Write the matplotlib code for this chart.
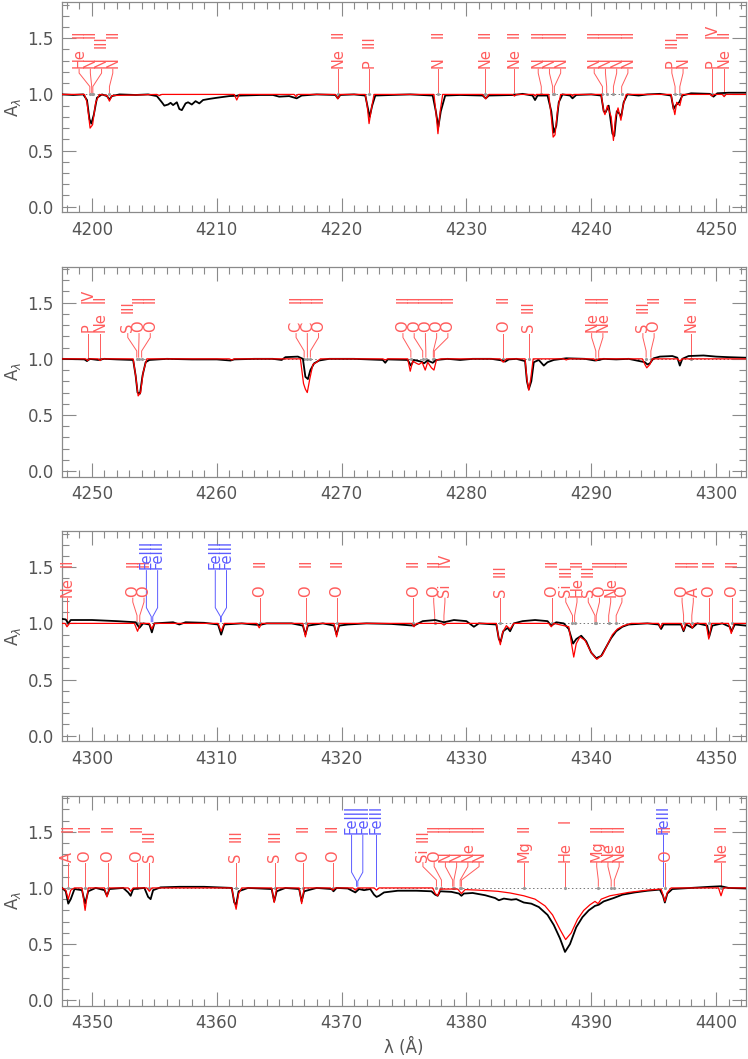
import matplotlib
matplotlib.use('Agg')
import matplotlib.pyplot as plt
from matplotlib.ticker import MultipleLocator, FormatStrFormatter

plt.rcParams['font.family'] = ['DejaVu Sans']
plt.rcParams['mathtext.fontset'] = 'dejavusans'

# wavelength windows of the four panels
ranges = [(4197.6, 4252.4), (4247.6, 4302.4), (4297.6, 4352.4), (4347.6, 4402.4)]

black1 = [(4197.6, 1.0), (4198.5, 0.995), (4199.3, 1.0), (4199.6, 0.95), (4199.8, 0.78), (4199.95, 0.74),
          (4200.15, 0.82), (4200.4, 0.97), (4200.8, 1.0), (4201.2, 0.985), (4201.4, 0.955), (4201.6, 0.985),
          (4202.2, 1.0), (4203.5, 0.995), (4204.5, 1.0), (4205.2, 0.985), (4205.6, 0.93), (4205.8, 0.9),
          (4206.1, 0.91), (4206.3, 0.925), (4206.5, 0.905), (4206.8, 0.93), (4207.0, 0.87), (4207.2, 0.86),
          (4207.5, 0.92), (4207.7, 0.93), (4208.0, 0.91), (4208.3, 0.94), (4208.6, 0.92), (4208.9, 0.95),
          (4209.4, 0.96), (4210.0, 0.97), (4211.0, 0.985), (4212.0, 0.99), (4213.5, 0.995), (4214.5, 0.995),
          (4215.0, 0.98), (4215.8, 0.985), (4216.4, 0.965), (4216.8, 0.99), (4218.0, 1.0), (4219.5, 0.995),
          (4219.7, 0.965), (4219.9, 0.995), (4221.0, 1.0), (4221.9, 0.99), (4222.1, 0.88), (4222.25, 0.8),
          (4222.45, 0.9), (4222.7, 0.99), (4224.0, 0.995), (4225.5, 1.0), (4227.3, 0.99), (4227.55, 0.85),
          (4227.75, 0.71), (4227.95, 0.85), (4228.3, 0.99), (4229.5, 0.995), (4231.3, 0.99), (4231.55, 0.965),
          (4231.8, 0.99), (4233.8, 0.995), (4234.5, 1.005), (4235.3, 0.99), (4235.5, 0.95), (4235.7, 0.99),
          (4236.5, 0.99), (4236.8, 0.85), (4237.0, 0.66), (4237.2, 0.72), (4237.4, 0.93), (4237.7, 1.0),
          (4238.3, 0.99), (4238.5, 0.965), (4238.8, 0.995), (4240.0, 1.0), (4240.8, 0.99), (4241.0, 0.85),
          (4241.15, 0.84), (4241.4, 0.9), (4241.7, 0.65), (4241.85, 0.63), (4242.05, 0.85), (4242.25, 0.83),
          (4242.4, 0.8), (4242.6, 0.93), (4242.9, 1.0), (4243.8, 0.99), (4244.5, 1.0), (4245.5, 1.005),
          (4246.4, 0.99), (4246.6, 0.87), (4246.75, 0.9), (4247.05, 0.93), (4247.3, 0.99), (4248.0, 1.01),
          (4249.5, 1.005), (4249.8, 0.98), (4250.1, 1.01), (4251.0, 1.015), (4252.4, 1.015)]

black2 = [(4247.6, 1.0), (4249.4, 0.995), (4249.6, 0.98), (4249.8, 1.0), (4250.5, 0.99), (4251.0, 1.0),
          (4252.0, 0.995), (4253.3, 0.99), (4253.5, 0.85), (4253.65, 0.70), (4253.85, 0.69), (4254.05, 0.85),
          (4254.3, 0.97), (4254.6, 0.99), (4256.0, 1.0), (4258.0, 0.995), (4260.0, 0.995), (4261.1, 0.985),
          (4261.4, 0.995), (4263.0, 1.0), (4264.5, 1.0), (4265.2, 0.99), (4265.5, 1.015), (4266.5, 1.02),
          (4266.9, 1.0), (4267.1, 0.84), (4267.3, 0.82), (4267.5, 0.9), (4267.8, 0.96), (4268.2, 0.985),
          (4269.0, 1.0), (4271.0, 1.0), (4273.3, 0.99), (4273.5, 0.965), (4273.7, 0.995), (4275.3, 0.99),
          (4275.55, 0.94), (4275.8, 0.99), (4276.4, 0.975), (4276.6, 0.96), (4276.9, 0.985), (4277.3, 0.965),
          (4277.6, 0.99), (4278.5, 1.0), (4279.5, 0.99), (4280.5, 1.0), (4282.0, 1.0), (4282.9, 0.985),
          (4283.1, 0.975), (4283.4, 0.995), (4284.0, 1.0), (4284.7, 0.98), (4284.85, 0.8), (4285.0, 0.73),
          (4285.2, 0.8), (4285.4, 0.97), (4285.8, 0.99), (4286.2, 0.94), (4286.5, 0.97), (4287.0, 0.99),
          (4288.0, 1.005), (4289.5, 1.0), (4290.3, 0.985), (4290.6, 0.99), (4291.0, 1.0), (4292.0, 0.995),
          (4293.0, 1.0), (4294.3, 0.97), (4294.5, 0.95), (4294.7, 0.96), (4295.0, 1.005), (4295.5, 1.02),
          (4296.5, 1.025), (4296.9, 1.01), (4297.1, 0.94), (4297.3, 1.0), (4297.8, 1.025), (4299.0, 1.03),
          (4300.0, 1.02), (4301.0, 1.015), (4302.4, 1.01)]

black3 = [(4297.6, 1.04), (4297.9, 1.035), (4298.1, 1.0), (4298.3, 1.03), (4300.0, 1.03), (4302.0, 1.02),
          (4303.5, 1.01), (4303.8, 0.96), (4304.1, 1.0), (4304.6, 0.99), (4304.8, 0.92), (4305.0, 1.0),
          (4306.5, 1.01), (4307.0, 0.99), (4307.5, 1.01), (4309.0, 1.005), (4310.1, 0.99), (4310.35, 0.9),
          (4310.6, 0.99), (4312.0, 1.0), (4313.4, 0.985), (4314.0, 1.0), (4316.0, 1.0), (4316.9, 0.98),
          (4317.1, 0.9), (4317.3, 0.98), (4318.5, 1.0), (4319.4, 0.98), (4319.6, 0.9), (4319.8, 0.98),
          (4320.5, 0.99), (4322.0, 1.0), (4324.0, 0.995), (4325.8, 0.98), (4326.5, 1.02), (4327.5, 1.03),
          (4328.2, 1.01), (4329.0, 1.03), (4330.0, 1.02), (4330.6, 0.97), (4331.0, 1.0), (4332.4, 0.99),
          (4332.6, 0.86), (4332.75, 0.84), (4332.95, 0.93), (4333.3, 0.96), (4333.5, 0.93), (4333.8, 1.0),
          (4334.5, 1.02), (4335.5, 1.03), (4336.5, 1.02), (4336.8, 0.98), (4337.2, 1.01), (4337.8, 1.0),
          (4338.2, 0.95), (4338.55, 0.82), (4338.8, 0.86), (4339.2, 0.89), (4339.6, 0.84), (4340.0, 0.74),
          (4340.4, 0.69), (4340.8, 0.71), (4341.2, 0.79), (4341.6, 0.87), (4342.0, 0.93), (4342.5, 0.97),
          (4343.0, 0.99), (4344.5, 1.0), (4345.4, 0.99), (4345.6, 0.95), (4345.8, 0.99), (4347.2, 0.99),
          (4347.4, 0.93), (4347.6, 0.99), (4348.1, 0.96), (4348.5, 1.0), (4349.3, 0.98), (4349.45, 0.88),
          (4349.7, 0.98), (4350.5, 1.0), (4351.1, 0.97), (4351.25, 0.93), (4351.5, 0.99), (4352.4, 0.98)]

black4 = [(4347.6, 1.0), (4347.9, 0.97), (4348.1, 0.86), (4348.3, 0.9), (4348.6, 0.99), (4349.2, 0.98),
          (4349.45, 0.86), (4349.7, 0.97), (4350.3, 1.0), (4351.0, 0.98), (4351.2, 0.93), (4351.4, 0.99),
          (4352.5, 1.0), (4352.9, 0.96), (4353.1, 0.93), (4353.3, 0.99), (4354.2, 1.0), (4354.5, 0.92),
          (4354.7, 0.9), (4354.9, 0.98), (4355.5, 1.005), (4357.0, 1.01), (4359.0, 1.01), (4361.2, 1.0),
          (4361.4, 0.87), (4361.55, 0.85), (4361.75, 0.97), (4362.5, 1.0), (4364.4, 0.99), (4364.6, 0.88),
          (4364.8, 0.97), (4365.5, 1.0), (4366.6, 0.99), (4366.8, 0.88), (4367.0, 0.97), (4368.0, 1.0),
          (4369.2, 0.99), (4369.35, 0.97), (4369.6, 1.0), (4370.5, 0.995), (4371.1, 0.96), (4371.4, 0.99),
          (4371.8, 0.98), (4372.3, 0.99), (4372.6, 0.94), (4372.8, 0.92), (4373.0, 0.93), (4373.4, 0.96),
          (4374.5, 0.975), (4376.0, 0.975), (4377.2, 0.97), (4377.5, 0.94), (4377.7, 0.93), (4377.9, 0.97),
          (4378.8, 0.965), (4379.4, 0.95), (4379.6, 0.93), (4379.8, 0.95), (4380.5, 0.955), (4381.5, 0.935),
          (4382.3, 0.91), (4382.6, 0.89), (4383.0, 0.905), (4383.6, 0.895), (4384.0, 0.9), (4384.6, 0.87),
          (4385.2, 0.86), (4385.8, 0.83), (4386.5, 0.76), (4387.0, 0.67), (4387.5, 0.55), (4387.9, 0.43),
          (4388.3, 0.5), (4388.8, 0.65), (4389.3, 0.74), (4389.8, 0.8), (4390.3, 0.84), (4390.6, 0.85),
          (4391.0, 0.88), (4391.8, 0.91), (4392.5, 0.94), (4393.5, 0.96), (4394.5, 0.975), (4395.5, 0.985),
          (4395.75, 0.93), (4395.9, 0.87), (4396.1, 0.95), (4396.5, 0.99), (4398.0, 1.0), (4399.5, 1.01),
          (4400.4, 1.015), (4401.0, 1.0), (4402.4, 0.995)]

# model spectrum (red)
red1 = [(4197.6, 1.0), (4199.4, 1.0), (4199.6, 0.93), (4199.85, 0.70), (4200.05, 0.73), (4200.3, 0.93),
        (4200.6, 1.0), (4201.2, 0.99), (4201.4, 0.94), (4201.6, 0.99), (4205.2, 1.0), (4205.4, 0.99),
        (4205.6, 1.0), (4211.4, 1.0), (4211.6, 0.95), (4211.8, 1.0), (4216.2, 1.0), (4216.35, 0.98),
        (4216.5, 1.0), (4219.5, 1.0), (4219.7, 0.96), (4219.9, 1.0), (4221.9, 1.0), (4222.05, 0.9),
        (4222.2, 0.74), (4222.4, 0.88), (4222.6, 1.0), (4227.4, 1.0), (4227.55, 0.85), (4227.72, 0.65),
        (4227.9, 0.85), (4228.1, 1.0), (4231.3, 1.0), (4231.55, 0.96), (4231.8, 1.0), (4233.7, 1.0),
        (4233.85, 0.985), (4234.0, 1.0), (4235.4, 1.0), (4235.5, 0.985), (4235.6, 1.0), (4236.6, 1.0),
        (4236.8, 0.8), (4236.95, 0.62), (4237.1, 0.64), (4237.3, 0.86), (4237.55, 1.0), (4238.4, 1.0),
        (4238.5, 0.985), (4238.6, 1.0), (4240.8, 1.0), (4241.0, 0.85), (4241.1, 0.82), (4241.3, 0.9),
        (4241.6, 0.8), (4241.78, 0.59), (4241.95, 0.8), (4242.15, 0.88), (4242.38, 0.77), (4242.55, 0.9),
        (4242.8, 1.0), (4246.4, 1.0), (4246.55, 0.9), (4246.7, 0.82), (4246.85, 0.93), (4247.1, 0.9),
        (4247.3, 1.0), (4249.55, 1.0), (4249.7, 0.985), (4249.85, 1.0), (4250.5, 1.0), (4250.65, 0.98),
        (4250.8, 1.0), (4252.4, 1.0)]

red2 = [(4247.6, 1.0), (4249.5, 1.0), (4249.65, 0.985), (4249.8, 1.0), (4250.5, 1.0), (4250.65, 0.985),
        (4250.8, 1.0), (4253.3, 1.0), (4253.5, 0.85), (4253.7, 0.67), (4253.9, 0.7), (4254.1, 0.88),
        (4254.4, 1.0), (4261.0, 1.0), (4261.2, 0.99), (4261.4, 1.0), (4266.7, 1.0), (4266.95, 0.78),
        (4267.1, 0.73), (4267.25, 0.7), (4267.45, 0.82), (4267.7, 0.95), (4268.0, 0.97), (4268.3, 1.0),
        (4273.3, 1.0), (4273.5, 0.99), (4273.7, 1.0), (4275.3, 1.0), (4275.5, 0.89), (4275.7, 0.98),
        (4276.0, 0.96), (4276.2, 0.95), (4276.45, 0.97), (4276.7, 0.9), (4276.9, 0.97), (4277.2, 0.92),
        (4277.4, 0.9), (4277.6, 0.99), (4278.0, 1.0), (4282.7, 1.0), (4282.95, 0.97), (4283.2, 1.0),
        (4284.7, 1.0), (4284.85, 0.82), (4285.0, 0.72), (4285.15, 0.82), (4285.35, 1.0), (4287.8, 1.0),
        (4288.0, 0.99), (4288.2, 1.0), (4290.2, 1.0), (4290.4, 0.985), (4290.6, 1.0), (4294.1, 1.0),
        (4294.3, 0.95), (4294.45, 0.92), (4294.7, 0.95), (4294.9, 1.0), (4296.9, 1.0), (4297.1, 0.98),
        (4297.3, 1.0), (4302.4, 1.0)]

red3 = [(4297.6, 1.0), (4297.85, 1.0), (4298.0, 0.97), (4298.2, 1.0), (4303.4, 1.0), (4303.65, 0.93),
        (4303.9, 1.0), (4304.6, 1.0), (4304.8, 0.95), (4305.0, 1.0), (4310.1, 1.0), (4310.35, 0.93),
        (4310.6, 1.0), (4313.2, 1.0), (4313.4, 0.96), (4313.6, 1.0), (4316.9, 1.0), (4317.1, 0.88),
        (4317.3, 1.0), (4319.4, 1.0), (4319.6, 0.88), (4319.8, 1.0), (4325.6, 1.0), (4325.8, 0.97),
        (4326.0, 1.0), (4328.0, 1.0), (4328.2, 0.985), (4328.4, 1.0), (4332.4, 1.0), (4332.6, 0.86),
        (4332.72, 0.81), (4332.9, 0.92), (4333.2, 0.98), (4333.5, 0.95), (4333.8, 1.0), (4336.6, 1.0),
        (4336.8, 0.97), (4337.0, 1.0), (4338.2, 0.97), (4338.45, 0.8), (4338.6, 0.7), (4338.8, 0.82),
        (4339.1, 0.88), (4339.5, 0.85), (4340.0, 0.74), (4340.45, 0.68), (4340.9, 0.72), (4341.3, 0.81),
        (4341.7, 0.9), (4342.1, 0.95), (4342.6, 0.98), (4343.2, 1.0), (4345.4, 1.0), (4345.55, 0.96),
        (4345.7, 1.0), (4347.2, 1.0), (4347.4, 0.94), (4347.6, 1.0), (4347.9, 1.0), (4348.1, 0.96),
        (4348.3, 1.0), (4349.2, 1.0), (4349.42, 0.86), (4349.65, 1.0), (4351.0, 1.0), (4351.22, 0.91),
        (4351.45, 1.0), (4352.4, 1.0)]

red4 = [(4347.6, 1.0), (4347.9, 0.98), (4348.1, 0.9), (4348.3, 0.98), (4348.6, 1.0), (4349.2, 1.0),
        (4349.45, 0.8), (4349.7, 1.0), (4351.0, 1.0), (4351.2, 0.92), (4351.4, 1.0), (4352.9, 1.0),
        (4353.1, 0.97), (4353.3, 1.0), (4354.4, 1.0), (4354.6, 0.97), (4354.8, 1.0), (4361.2, 1.0),
        (4361.4, 0.88), (4361.55, 0.81), (4361.75, 0.95), (4362.0, 1.0), (4364.4, 1.0), (4364.6, 0.87),
        (4364.8, 1.0), (4366.6, 1.0), (4366.8, 0.86), (4367.0, 1.0), (4369.1, 1.0), (4369.3, 0.98),
        (4369.5, 1.0), (4370.9, 1.0), (4371.1, 0.98), (4371.3, 1.0), (4372.6, 1.0), (4372.8, 0.98),
        (4373.0, 1.0), (4377.3, 1.0), (4377.5, 0.95), (4377.7, 0.93), (4377.9, 0.99), (4379.3, 0.99),
        (4379.6, 0.95), (4379.9, 0.985), (4381.0, 0.98), (4382.5, 0.97), (4383.5, 0.955), (4384.6, 0.93),
        (4385.5, 0.9), (4386.3, 0.84), (4386.9, 0.76), (4387.5, 0.63), (4387.95, 0.54), (4388.4, 0.6),
        (4388.9, 0.72), (4389.4, 0.8), (4389.9, 0.85), (4390.3, 0.88), (4390.55, 0.86), (4390.8, 0.9),
        (4391.5, 0.93), (4392.0, 0.94), (4393.0, 0.96), (4394.5, 0.98), (4395.6, 0.99), (4395.75, 0.94),
        (4395.9, 0.88), (4396.1, 0.96), (4396.4, 1.0), (4400.2, 1.0), (4400.4, 0.93), (4400.6, 1.0),
        (4402.4, 1.0)]

blacks = [black1, black2, black3, black4]
reds = [red1, red2, red3, red4]

# line identifications (wavelength, element, ion)
ids1 = [(4199.83, 'He', 'II'), (4199.98, 'N', 'II'), (4200.07, 'N', 'III'), (4201.4, 'N', 'II'),
        (4219.74, 'Ne', 'II'), (4222.2, 'P', 'III'), (4227.74, 'N', 'II'), (4231.53, 'Ne', 'II'),
        (4233.85, 'Ne', 'II'), (4236.0, 'N', 'II'), (4236.91, 'N', 'II'), (4237.05, 'N', 'II'),
        (4240.9, 'N', 'II'), (4241.24, 'N', 'II'), (4241.78, 'N', 'II'), (4242.44, 'N', 'II'),
        (4246.72, 'P', 'III'), (4247.1, 'N', 'II'), (4249.66, 'P', 'IV'), (4250.65, 'Ne', 'II')]
ids2 = [(4249.66, 'P', 'IV'), (4250.65, 'Ne', 'II'), (4253.59, 'S', 'III'), (4253.74, 'O', 'II'),
        (4253.98, 'O', 'II'), (4267.0, 'C', 'II'), (4267.26, 'C', 'II'), (4267.5, 'O', 'II'),
        (4275.55, 'O', 'II'), (4276.5, 'O', 'II'), (4276.75, 'O', 'II'), (4277.35, 'O', 'II'),
        (4277.43, 'O', 'II'), (4282.96, 'O', 'II'), (4284.98, 'S', 'III'), (4290.37, 'Ne', 'II'),
        (4290.6, 'Ne', 'II'), (4294.4, 'S', 'III'), (4294.78, 'O', 'II'), (4297.97, 'Ne', 'II')]
ids3 = [(4298.0, 'Ne', 'II'), (4303.61, 'O', 'II'), (4303.83, 'O', 'II'), (4313.44, 'O', 'II'),
        (4317.14, 'O', 'II'), (4319.63, 'O', 'II'), (4325.76, 'O', 'II'), (4327.46, 'O', 'II'),
        (4328.2, 'Si', 'IV'), (4332.7, 'S', 'III'), (4336.86, 'O', 'II'), (4338.5, 'Si', 'III'),
        (4338.67, 'He', 'II'), (4340.3, 'S', 'III'), (4340.4, 'O', 'II'), (4341.4, 'Ne', 'II'),
        (4342.0, 'O', 'II'), (4347.4, 'O', 'II'), (4348.06, 'A', 'II'), (4349.43, 'O', 'II'),
        (4351.26, 'O', 'II')]
ids4 = [(4348.06, 'A', 'II'), (4349.43, 'O', 'II'), (4351.26, 'O', 'II'), (4353.59, 'O', 'II'),
        (4354.6, 'S', 'III'), (4361.53, 'S', 'III'), (4364.66, 'S', 'III'), (4366.9, 'O', 'II'),
        (4369.28, 'O', 'II'), (4377.6, 'Si', 'III'), (4378.0, 'O', 'II'), (4378.9, 'N', 'II'),
        (4379.0, 'N', 'II'), (4379.5, 'Ne', 'II'), (4379.6, 'N', 'II'), (4384.64, 'Mg', 'II'),
        (4387.93, 'He', 'I'), (4390.57, 'Mg', 'II'), (4391.6, 'Ne', 'II'), (4391.85, 'Ne', 'II'),
        (4395.94, 'O', 'II'), (4400.4, 'Ne', 'II')]
ids = [ids1, ids2, ids3, ids4]

# iron lines, drawn in blue
fe3 = [[], [], [4304.75, 4304.87, 4310.3, 4310.36], [4371.2, 4371.3, 4372.78, 4395.78]]

RED_LAB = '#ff5c5c'
BLUE_LAB = '#5c5cff'
AXC = '#8a8a8a'
TXC = '#555555'
ION_Y = {'I': 1.58, 'II': 1.50, 'III': 1.41, 'IV': 1.50}


def spread(xs, gap):
    # push label positions apart so the rotated texts do not overlap
    xs = sorted(xs)
    groups = [[x] for x in xs]
    changed = True
    while changed:
        changed = False
        pos = []
        for g in groups:
            c = sum(g) / len(g)
            pos.append([c + (i - (len(g) - 1) / 2) * gap for i in range(len(g))])
        for i in range(len(groups) - 1):
            if pos[i][-1] + gap > pos[i + 1][0] + 1e-9:
                groups[i] = groups[i] + groups[i + 1]
                del groups[i + 1]
                changed = True
                break
    out = []
    for g in groups:
        c = sum(g) / len(g)
        out += [c + (i - (len(g) - 1) / 2) * gap for i in range(len(g))]
    return xs, out


fig = plt.figure(figsize=(7.48, 10.59), dpi=100)
bottoms = [0.7995, 0.5498, 0.3000, 0.0502]

for k in range(4):
    ax = fig.add_axes([0.0829, bottoms[k], 0.9144, 0.1983])
    lo, hi = ranges[k]
    ax.set_xlim(lo, hi)
    ax.set_ylim(-0.05, 1.82)
    ax.axhline(1.0, color='#777777', lw=0.7, ls=(0, (1.5, 2.5)), zorder=1)

    bw = [p[0] for p in blacks[k]]
    bf = [p[1] for p in blacks[k]]
    rw = [p[0] for p in reds[k]]
    rf = [p[1] for p in reds[k]]
    ax.plot(bw, bf, color='black', lw=1.3, zorder=3)
    ax.plot(rw, rf, color='red', lw=0.9, zorder=4)

    # red identifications
    lams = [t[0] for t in ids[k]]
    lab = {t[0]: t for t in ids[k]}
    srt, tx = spread(lams, 0.9)
    for lam, x in zip(srt, tx):
        _, el, ion = lab[lam]
        ax.plot([x, x, lam, lam], [1.225, 1.19, 1.07, 1.015], color=RED_LAB, lw=0.7, zorder=2)
        ax.text(x, 1.235, el, rotation=90, rotation_mode='anchor', ha='left', va='center',
                color=RED_LAB, fontsize=10.5, zorder=5)
        ax.text(x, ION_Y[ion], ion, rotation=90, rotation_mode='anchor', ha='left', va='center',
                color=RED_LAB, fontsize=10.5, zorder=5)
        ax.plot([lam], [1.0], marker='.', ms=2.5, color='#999999', zorder=2)

    # blue identifications
    if fe3[k]:
        srt, tx = spread(fe3[k], 0.9)
        for lam, x in zip(srt, tx):
            ax.plot([x, x, lam, lam], [1.47, 1.14, 1.06, 1.015], color=BLUE_LAB, lw=0.7, zorder=2)
            ax.text(x, 1.48, 'FeIII', rotation=90, rotation_mode='anchor', ha='left', va='center',
                    color=BLUE_LAB, fontsize=10.5, zorder=5)

    ax.xaxis.set_major_locator(MultipleLocator(10))
    ax.xaxis.set_minor_locator(MultipleLocator(1))
    ax.yaxis.set_major_locator(MultipleLocator(0.5))
    ax.yaxis.set_minor_locator(MultipleLocator(0.1))
    ax.yaxis.set_major_formatter(FormatStrFormatter('%.1f'))
    ax.tick_params(which='both', direction='in', top=True, right=True, color=AXC, width=0.8,
                   labelcolor=TXC, labelsize=12)
    ax.tick_params(which='major', length=10, pad=6)
    ax.tick_params(which='minor', length=5)
    for s in ax.spines.values():
        s.set_color(AXC)
        s.set_linewidth(0.9)
    ax.set_ylabel(r'A$_\lambda$', color=TXC, fontsize=12, labelpad=3)
    if k == 3:
        ax.set_xlabel('λ (Å)', color=TXC, fontsize=12)

fig.savefig('out.png', dpi=100)
